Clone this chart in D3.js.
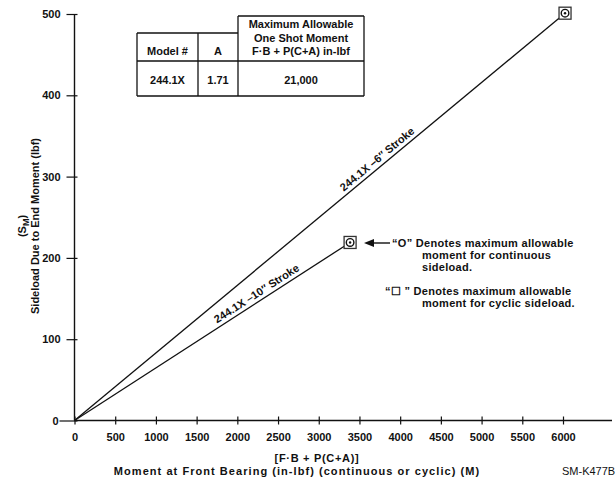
<!DOCTYPE html>
<html lang="en">
<head>
<meta charset="UTF-8" />
<title>Sideload vs Moment</title>
<script src="https://d3js.org/d3.v7.min.js"></script>
<style>
  body { margin: 0; background: #fff; }
  svg text { font-family: "Liberation Sans", Arial, sans-serif; fill: #111; }
  .tick text { font-size: 11px; font-weight: bold; font-family: "Liberation Sans", Arial, sans-serif; }
  .lbl { font-size: 11px; font-weight: bold; }
</style>
</head>
<body>
<svg id="chart" width="616" height="484"></svg>
<script>
// data
const strokes = ["244.1X \u20136\u2033 Stroke", "244.1X \u201310\u2033 Stroke"];
const momentEnd = [6025, 3385];   // in-lbf at marker
const sideloadEnd = [501, 219];   // lbf at marker
const xTicks = d3.range(0, 6001, 500);
const yTicks = [0, 100, 200, 300, 400, 500];
const tableHead = ["Model #", "A"];
const tableHeadWide = ["Maximum Allowable", "One Shot Moment", "F\u00B7B + P(C+A) in-lbf"];
const tableRow = ["244.1X", "1.71", "21,000"];

const svg = d3.select("#chart");
const x = d3.scaleLinear().domain([0, 6000]).range([74.5, 563]);
const y = d3.scaleLinear().domain([0, 500]).range([420.5, 14]);

// x axis
const gx = svg.append("g").attr("transform", `translate(0,${y(0)})`)
  .call(d3.axisBottom(x).tickValues(xTicks).tickFormat(d3.format("d")).tickSize(4).tickPadding(9));
gx.select(".domain").remove();
gx.selectAll(".tick line").attr("y1", -4).attr("stroke", "#111").attr("stroke-width", 1.2);
svg.append("line").attr("x1", x(0)).attr("x2", 612).attr("y1", y(0)).attr("y2", y(0))
  .attr("stroke", "#111").attr("stroke-width", 1.4);

// y axis
const gy = svg.append("g").attr("transform", `translate(${x(0)},0)`)
  .call(d3.axisLeft(y).tickValues(yTicks).tickSize(8).tickPadding(10));
gy.select(".domain").remove();
gy.selectAll(".tick line").attr("x2", (d) => d === 0 ? -15 : -8).attr("x1", 3)
  .attr("stroke", "#111").attr("stroke-width", 1.2);
gy.selectAll(".tick text").attr("x", (d) => d === 0 ? -16 : -14);
svg.append("line").attr("x1", x(0)).attr("x2", x(0)).attr("y1", y(0)).attr("y2", y(500))
  .attr("stroke", "#111").attr("stroke-width", 1.4);

// lines
strokes.forEach((s, i) => {
  svg.append("line")
    .attr("x1", x(0)).attr("y1", y(0))
    .attr("x2", x(momentEnd[i])).attr("y2", y(sideloadEnd[i]))
    .attr("stroke", "#111").attr("stroke-width", 1.3);
});

// line labels
const labelAt = [[0.627, 4], [0.676, 4]];
strokes.forEach((s, i) => {
  const x1 = x(momentEnd[i]), y1 = y(sideloadEnd[i]);
  const ang = Math.atan2(y1 - y(0), x1 - x(0)) * 180 / Math.PI;
  const t = labelAt[i][0];
  const px = x(0) + (x1 - x(0)) * t, py = y(0) + (y1 - y(0)) * t;
  svg.append("text").attr("class", "lbl")
    .attr("transform", `translate(${px},${py}) rotate(${ang})`)
    .attr("y", -labelAt[i][1]).attr("text-anchor", "middle")
    .text(s);
});

// markers
momentEnd.forEach((m, i) => {
  const cx = x(m), cy = y(sideloadEnd[i]);
  const g = svg.append("g").attr("transform", `translate(${cx},${cy})`);
  g.append("rect").attr("x", -6).attr("y", -6).attr("width", 12).attr("height", 12)
    .attr("fill", "#fff").attr("stroke", "#333").attr("stroke-width", 1.3);
  g.append("circle").attr("r", 3.8).attr("fill", "none").attr("stroke", "#111").attr("stroke-width", 1.4);
  g.append("circle").attr("r", 1.2).attr("fill", "#111");
});

// arrow + notes
const ay = 243;
svg.append("line").attr("x1", 390).attr("x2", 370).attr("y1", ay).attr("y2", ay)
  .attr("stroke", "#111").attr("stroke-width", 1.4);
svg.append("path").attr("d", `M364,${ay} L374,${ay - 4} L374,${ay + 4} Z`).attr("fill", "#111");

const notes = [
  ["\u201CO\u201D Denotes  maximum allowable", 392, 247],
  ["moment for continuous", 422, 259],
  ["sideload.", 422, 271],
  ["\u201C\u2610 \u201D Denotes maximum allowable", 385, 295],
  ["moment for cyclic sideload.", 422, 307]
];
svg.selectAll(".note").data(notes).enter().append("text")
  .attr("class", "lbl note").attr("letter-spacing", 0.3)
  .attr("x", (d) => d[1]).attr("y", (d) => d[2]).text((d) => d[0]);

// axis titles
svg.append("text").attr("class", "lbl").attr("font-size", "12px").attr("text-anchor", "middle")
  .attr("transform", "translate(39,226) rotate(-90)").text("Sideload Due to End Moment (lbf)");
const sm = svg.append("text").attr("class", "lbl").attr("font-size", "12px").attr("text-anchor", "middle")
  .attr("transform", "translate(26,226) rotate(-90)");
sm.append("tspan").text("(S");
sm.append("tspan").attr("font-size", "9px").attr("dy", 3).text("M");
sm.append("tspan").attr("dy", -3).text(")");

svg.append("text").attr("class", "lbl").attr("font-size", "12px").attr("letter-spacing", 0.7)
  .attr("text-anchor", "middle").attr("x", 317).attr("y", 462).text("[F\u00B7B + P(C+A)]");
svg.append("text").attr("class", "lbl").attr("font-size", "12.5px").attr("letter-spacing", 1.05)
  .attr("text-anchor", "middle").attr("x", 297).attr("y", 475)
  .text("Moment at Front Bearing (in-lbf) (continuous or cyclic) (M)");
svg.append("text").attr("font-size", "11px").attr("x", 562).attr("y", 475).text("SM-K477B");

// table
const tb = svg.append("g");
const tx = [137, 198, 238, 364];
const ty = [16, 33, 61, 96];
const stroke = (x1, y1, x2, y2) => tb.append("line")
  .attr("x1", x1).attr("y1", y1).attr("x2", x2).attr("y2", y2)
  .attr("stroke", "#111").attr("stroke-width", 1.3);
stroke(tx[0], ty[1], tx[2], ty[1]);
stroke(tx[2], ty[0], tx[3], ty[0]);
stroke(tx[0], ty[2], tx[3], ty[2]);
stroke(tx[0], ty[3], tx[3], ty[3]);
stroke(tx[0], ty[1], tx[0], ty[3]);
stroke(tx[1], ty[1], tx[1], ty[3]);
stroke(tx[2], ty[0], tx[2], ty[3]);
stroke(tx[3], ty[0], tx[3], ty[3]);
tableHead.forEach((h, i) => {
  tb.append("text").attr("class", "lbl").attr("font-size", "12px").attr("text-anchor", "middle")
    .attr("x", (tx[i] + tx[i + 1]) / 2).attr("y", 55).text(h);
});
tableHeadWide.forEach((h, i) => {
  tb.append("text").attr("class", "lbl").attr("font-size", "11.5px").attr("text-anchor", "middle")
    .attr("x", (tx[2] + tx[3]) / 2).attr("y", 28 + i * 13.5).text(h);
});
tableRow.forEach((v, i) => {
  tb.append("text").attr("class", "lbl").attr("font-size", "12px").attr("text-anchor", "middle")
    .attr("x", (tx[i] + tx[i + 1]) / 2).attr("y", 84).text(v);
});
</script>
</body>
</html>
